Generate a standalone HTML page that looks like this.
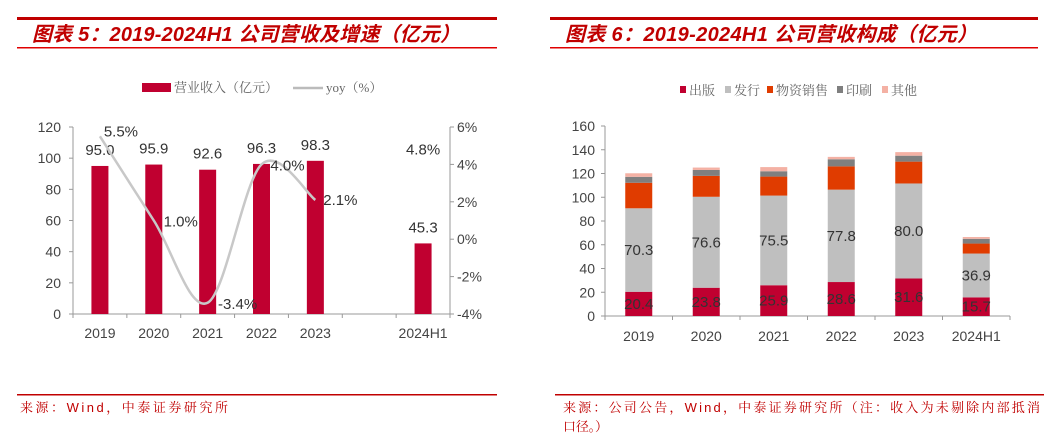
<!DOCTYPE html>
<html><head><meta charset="utf-8">
<style>
html,body{margin:0;padding:0;background:#fff;width:1060px;height:445px;overflow:hidden;font-family:"Liberation Sans","Noto Sans CJK SC",sans-serif;}
svg{position:absolute;left:0;top:0}
.title{font-family:"Liberation Sans","Noto Sans CJK SC",sans-serif;font-style:italic;font-weight:bold;font-size:20px;fill:#c00000}
.tick{font-size:14px;fill:#444}
.lbl{font-size:15px;fill:#333}
.slbl{font-size:15px;fill:#333}
.leg{font-size:13px;fill:#666;font-family:"Liberation Serif","Noto Serif CJK SC",serif}
.src{font-size:13px;fill:#c00000;font-family:"Liberation Sans","Noto Serif CJK SC",serif}
</style></head>
<body>
<svg width="1060" height="445" id="svg">
<g>
<rect x="17" y="17" width="480" height="3" fill="#c00000"/>
<rect x="17" y="47" width="480" height="1.5" fill="#e00000"/>
<text class="title" x="32" y="41" textLength="428">图表 5：2019-2024H1 公司营收及增速（亿元）</text>
</g>
<g>
<rect x="550" y="17" width="488" height="3" fill="#c00000"/>
<rect x="550" y="47" width="488" height="1.5" fill="#e00000"/>
<text class="title" x="565" y="41" textLength="412">图表 6：2019-2024H1 公司营收构成（亿元）</text>
</g>
<g>
<rect x="142" y="83" width="29" height="9" fill="#c00030"/>
<text class="leg" x="174" y="92">营业收入（亿元）</text>
<line x1="293" y1="88" x2="323" y2="88" stroke="#bbb" stroke-width="2.5"/>
<text class="leg" x="326" y="92">yoy（%）</text>
</g>
<g id="left"></g>
<g id="right"></g>
<g>
<rect x="17" y="394" width="480" height="1.5" fill="#c00000"/>
<rect x="555" y="394" width="489" height="1.5" fill="#c00000"/>
<text class="src" x="20" y="412" textLength="208">来源：Wind，中泰证券研究所</text>
<text class="src" x="563" y="412" textLength="477">来源：公司公告，Wind，中泰证券研究所（注：收入为未剔除内部抵消</text>
<text class="src" x="563" y="431" textLength="45">口径。）</text>
</g>
</svg>
<script>
const leftCats=["2019","2020","2021","2022","2023","","2024H1"];
const revenue=[95.0,95.9,92.6,96.3,98.3,null,45.3];
const yoy=[5.5,1.0,-3.4,4.0,2.1];
const yoyH1=4.8;
const leftTicks=[0,20,40,60,80,100,120];
const rightTicks=[-4,-2,0,2,4,6];

const rightCats=["2019","2020","2021","2022","2023","2024H1"];
const publish=[20.4,23.8,25.9,28.6,31.6,15.7];
const distrib=[70.3,76.6,75.5,77.8,80.0,36.9];
const materials=[21.5,17.6,16.0,19.6,18.4,8.4];
const printing=[5.0,5.0,4.5,6.0,5.0,4.0];
const others=[3.0,2.0,3.5,2.0,3.0,1.5];
const stackTicks=[0,20,40,60,80,100,120,140,160];
const legendNames=["出版","发行","物资销售","印刷","其他"];

const NS="http://www.w3.org/2000/svg";
function mk(parent,tag,attrs,text){const e=document.createElementNS(NS,tag);for(const k in attrs)e.setAttribute(k,attrs[k]);if(text!==undefined)e.textContent=text;parent.appendChild(e);return e;}

// LEFT CHART
const L=document.getElementById('left');
const lx0=73,lx1=450,slot=(lx1-lx0)/leftCats.length,ly0=314,ly1=127;
const yL=v=>ly0-(v-0)/120*(ly0-ly1);
const yR=v=>ly0-(v+4)/10*(ly0-ly1);
const xL=i=>lx0+slot*(i+0.5);
let ax=mk(L,'line',{x1:lx0,y1:ly1,x2:lx0,y2:ly0,stroke:'#999'});

ax=mk(L,'line',{x1:lx1,y1:ly1,x2:lx1,y2:ly0,stroke:'#999'});

ax=mk(L,'line',{x1:lx0,y1:ly0,x2:lx1,y2:ly0,stroke:'#999'});

leftTicks.forEach(t=>{mk(L,'line',{x1:lx0-4,y1:yL(t),x2:lx0,y2:yL(t),stroke:'#999'});
 const e=mk(L,'text',{x:lx0-12,y:yL(t)+5,'text-anchor':'end',class:'tick'},String(t));
 });
rightTicks.forEach(t=>{mk(L,'line',{x1:lx1,y1:yR(t),x2:lx1+4,y2:yR(t),stroke:'#999'});
 const e=mk(L,'text',{x:lx1+7,y:yR(t)+5,class:'tick'},t+'%');
 });
for(let i=0;i<=leftCats.length;i++)mk(L,'line',{x1:lx0+slot*i,y1:ly0,x2:lx0+slot*i,y2:ly0+4,stroke:'#999'});
leftCats.forEach((c,i)=>{if(!c)return;const e=mk(L,'text',{x:xL(i),y:ly0+24,'text-anchor':'middle',class:'tick'},c);
 });
revenue.forEach((v,i)=>{if(v==null)return;
 const b=mk(L,'rect',{x:xL(i)-8.5,y:yL(v),width:17,height:ly0-yL(v),fill:'#c00030'});
 
 const t=mk(L,'text',{x:xL(i),y:yL(v)-11,'text-anchor':'middle',class:'lbl'},v.toFixed(1));
 });
const pts=yoy.map((v,i)=>[xL(i),yR(v)]);
let d='M'+pts[0][0]+','+pts[0][1];
for(let i=0;i<pts.length-1;i++){const p0=pts[i-1]||pts[i],p1=pts[i],p2=pts[i+1],p3=pts[i+2]||p2;
 d+=` C${p1[0]+(p2[0]-p0[0])/6},${p1[1]+(p2[1]-p0[1])/6} ${p2[0]-(p3[0]-p1[0])/6},${p2[1]-(p3[1]-p1[1])/6} ${p2[0]},${p2[1]}`;}
const ln=mk(L,'path',{d:d,fill:'none',stroke:'#c8c8c8','stroke-width':2.5});

const yoyOff=[[21,0],[27,6],[30,6],[26,6],[25,5]];
yoy.forEach((v,i)=>{const t=mk(L,'text',{x:xL(i)+yoyOff[i][0],y:yR(v)+yoyOff[i][1],'text-anchor':'middle',class:'lbl'},v.toFixed(1)+'%');
 });
const h1=mk(L,'text',{x:xL(6),y:yR(yoyH1)+5,'text-anchor':'middle',class:'lbl'},yoyH1.toFixed(1)+'%');


// RIGHT CHART
const R=document.getElementById('right');
const rx0=605,rx1=1010,rs=(rx1-rx0)/rightCats.length,ry0=316,ry1=126;
const yS=v=>ry0-v/160*(ry0-ry1);
const xS=i=>rx0+rs*(i+0.5);
const colors=['#c00030','#bfbfbf','#e03c00','#7f7f7f','#f4b1a4'];
const series=[publish,distrib,materials,printing,others];
const snames=['publish','distribution','materials','printing','others'];
ax=mk(R,'line',{x1:rx0,y1:ry1,x2:rx0,y2:ry0,stroke:'#999'});

ax=mk(R,'line',{x1:rx0,y1:ry0,x2:rx1,y2:ry0,stroke:'#999'});

stackTicks.forEach(t=>{mk(R,'line',{x1:rx0-4,y1:yS(t),x2:rx0,y2:yS(t),stroke:'#999'});
 const e=mk(R,'text',{x:rx0-10,y:yS(t)+5,'text-anchor':'end',class:'tick'},String(t));
 });
for(let i=0;i<=rightCats.length;i++)mk(R,'line',{x1:rx0+rs*i,y1:ry0,x2:rx0+rs*i,y2:ry0+4,stroke:'#999'});
rightCats.forEach((c,i)=>{const e=mk(R,'text',{x:xS(i),y:ry0+25,'text-anchor':'middle',class:'tick'},c);
 });
rightCats.forEach((c,i)=>{let base=0;
 series.forEach((s,k)=>{const v=s[i];
  const r=mk(R,'rect',{x:xS(i)-13.5,y:yS(base+v),width:27,height:yS(base)-yS(base+v),fill:colors[k]});
  
  if(k<2){const t=mk(R,'text',{x:xS(i),y:(yS(base)+yS(base+v))/2+5,'text-anchor':'middle',class:'slbl',fill:k==0?'#7a1a2a':'#333'},v.toFixed(1));
   }
  base+=v;});});
const legX=[680,725,767,837,882];
legendNames.forEach((n,k)=>{const r=mk(R,'rect',{x:legX[k],y:86,width:6,height:7,fill:colors[k]});
 
 const t=mk(R,'text',{x:legX[k]+9,y:95,class:'leg'},n);
 });
</script>
</body></html>
